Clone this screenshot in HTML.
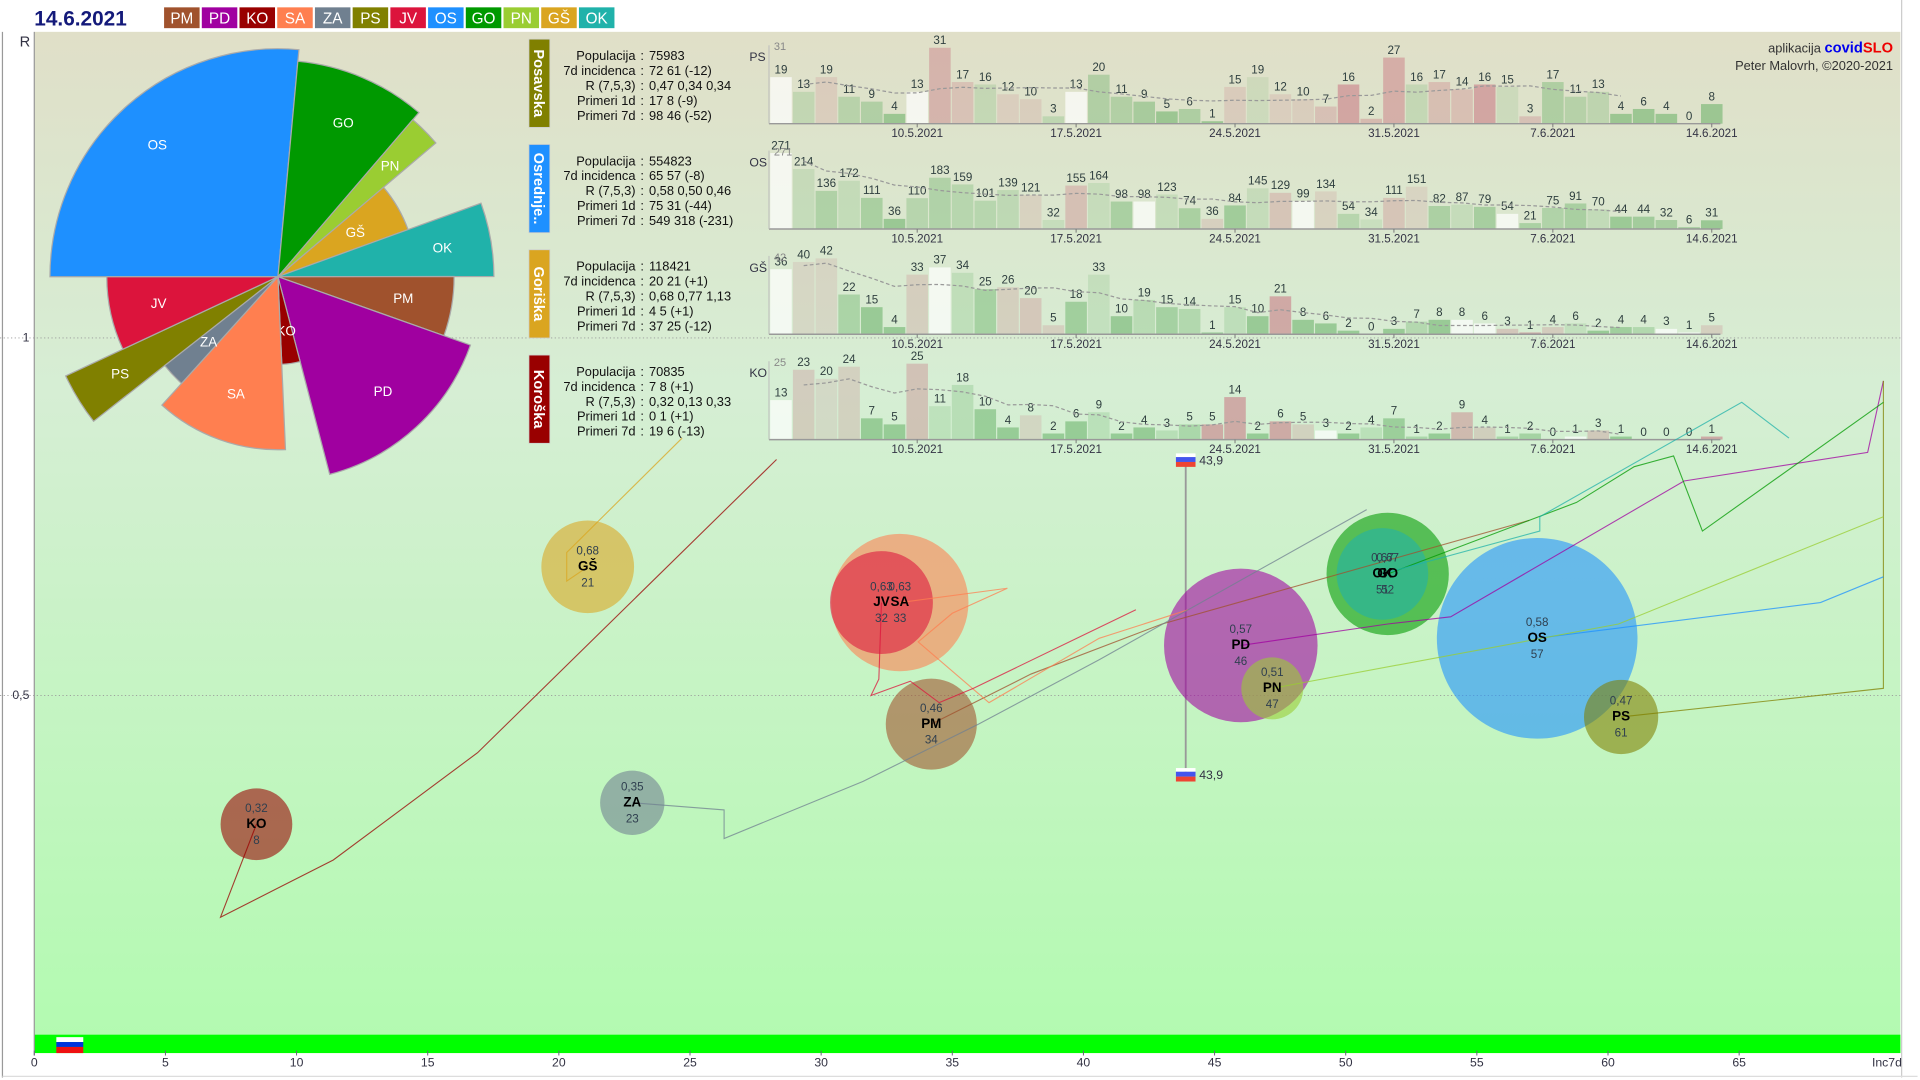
<!DOCTYPE html>
<html><head><meta charset="utf-8"><title>covidSLO 14.6.2021</title>
<style>
html,body{margin:0;padding:0;background:#fff;}
svg{display:block;font-family:"Liberation Sans","DejaVu Sans",sans-serif;}
</style></head>
<body>
<svg id="chart" width="1920" height="1080" viewBox="0 0 1568 882" preserveAspectRatio="none" xmlns="http://www.w3.org/2000/svg">
<defs>
<linearGradient id="bg" x1="0" y1="0" x2="0" y2="1">
<stop offset="0" stop-color="#e0dfc8"/>
<stop offset="0.35" stop-color="#d6eed4"/>
<stop offset="1" stop-color="#b2fbb0"/>
</linearGradient>
</defs>
<rect x="0" y="0" width="1568" height="882" fill="#fff"/>
<rect x="28" y="26" width="1524" height="834" fill="url(#bg)"/>
<line x1="1553" y1="0" x2="1553" y2="880" stroke="#ccc" stroke-width="1"/>
<line x1="2" y1="26" x2="2" y2="880" stroke="#999" stroke-width="1"/>
<line x1="2" y1="879" x2="1566" y2="879" stroke="#ddd" stroke-width="1"/>
<rect x="28" y="845" width="1524" height="15" fill="#00ff00"/>
<g>
<rect x="46" y="847" width="22" height="4" fill="#fff"/><rect x="46" y="851" width="22" height="4" fill="#0033dd"/><rect x="46" y="855" width="22" height="5" fill="#ee1111"/>
</g>
<g id="layer"></g>
</svg>
<script>
// ---- data ----
const regions = ['PM','PD','KO','SA','ZA','PS','JV','OS','GO','PN','GŠ','OK'];
const regionColors = ['#a0522d','#a000a0','#990000','#ff7f50','#708090','#808000','#dc143c','#1e90ff','#009900','#9acd32','#daa520','#20b2aa'];
const population = [114287,324875,70835,259726,57059,75983,145886,554823,206056,52881,118421,115613];
const incidence7d = [34.2,46.0,8.47,33.0,22.8,60.5,32.3,57.3,51.6,47.2,21.1,51.4];
const rValues = [0.46,0.57,0.32,0.63,0.35,0.47,0.63,0.58,0.67,0.51,0.68,0.67];
const pieOrder = ['OS','GO','PN','GŠ','OK','PM','PD','KO','SA','ZA','PS','JV'];
// trails: [incidence, R] history pairs, newest first
const trailPM = [[34.2,0.46],[38,0.53],[43,0.60],[57,0.745]];
const trailPD = [[46,0.57],[51.6,0.60],[54,0.61],[62.9,0.80],[69.9,0.84],[70.5,0.94]];
const trailKO = [[8.47,0.32],[7.1,0.19],[11.4,0.27],[16.9,0.42],[28.3,0.83]];
const trailSA = [[33.0,0.63],[37.1,0.65],[35.0,0.615],[33.7,0.575],[36.4,0.49],[40.6,0.58],[44,0.62]];
const trailZA = [[22.8,0.35],[26.3,0.34],[26.3,0.30],[31.6,0.38],[36.0,0.46],[40.6,0.55],[50.8,0.76]];
const trailPS = [[60.5,0.47],[70.5,0.51],[70.5,0.94]];
const trailJV = [[32.3,0.63],[32.2,0.523],[31.9,0.50],[33.4,0.52],[34.5,0.49],[35.8,0.51],[42,0.62]];
const trailOS = [[57.3,0.58],[68.1,0.63],[70.5,0.666]];
const trailGO = [[51.6,0.67],[58.8,0.77],[61,0.82],[62.5,0.835],[63.6,0.73],[70.5,0.91]];
const trailPN = [[47.2,0.51],[60.4,0.60],[70.5,0.75]];
const trailGS = [[21.1,0.68],[20.3,0.66],[20.3,0.70],[24.7,0.86]];
const trailOK = [[51.4,0.67],[57.4,0.73],[57.4,0.75],[65.1,0.91],[66.9,0.86]];
const sloIncidence = 43.9;
const sloRange = [0.39,0.83];
const xTicks = [0,5,10,15,20,25,30,35,40,45,50,55,60,65];
const yTicks = [1,0.5];
// bar panels
const barDates = ['10.5.2021','17.5.2021','24.5.2021','31.5.2021','7.6.2021','14.6.2021'];
const barDateIndex = [6,13,20,27,34,41];
const casesPS = [19,13,19,11,9,4,13,31,17,16,12,10,3,13,20,11,9,5,6,1,15,19,12,10,7,16,2,27,16,17,14,16,15,3,17,11,13,4,6,4,0,8];
const casesOS = [271,214,136,172,111,36,110,183,159,101,139,121,32,155,164,98,98,123,74,36,84,145,129,99,134,54,34,111,151,82,87,79,54,21,75,91,70,44,44,32,6,31];
const casesGS = [36,40,42,22,15,4,33,37,34,25,26,20,5,18,33,10,19,15,14,1,15,10,21,8,6,2,0,3,7,8,8,6,3,1,4,6,2,4,4,3,1,5];
const casesKO = [13,23,20,24,7,5,25,11,18,10,4,8,2,6,9,2,4,3,5,5,14,2,6,5,3,2,4,7,1,2,9,4,1,2,0,1,3,1,0,0,0,1];
const infoLabels = ['Populacija','7d incidenca','R (7,5,3)','Primeri 1d','Primeri 7d'];
const infoPS = ['75983','72 61 (-12)','0,47 0,34 0,34','17 8 (-9)','98 46 (-52)'];
const infoOS = ['554823','65 57 (-8)','0,58 0,50 0,46','75 31 (-44)','549 318 (-231)'];
const infoGS = ['118421','20 21 (+1)','0,68 0,77 1,13','4 5 (+1)','37 25 (-12)'];
const infoKO = ['70835','7 8 (+1)','0,32 0,13 0,33','0 1 (+1)','19 6 (-13)'];

// ---- helpers ----
const NS='http://www.w3.org/2000/svg';
const layer=document.getElementById('layer');
function mk(tag, attrs, parent){const e=document.createElementNS(NS,tag);for(const k in attrs)e.setAttribute(k,attrs[k]);(parent||layer).appendChild(e);return e;}
function txt(s, attrs, parent){const e=mk('text',attrs,parent);e.textContent=s;return e;}
const X0=28, XS=21.42, Y0=860, YS=584;
const xScale=v=>X0+v*XS;
const yScale=r=>Y0-r*YS;
const fmt=v=>v.toFixed(2).replace('.',',');
const colorOf=c=>regionColors[regions.indexOf(c)];

// ---- header ----
const dateEl=txt('14.6.2021',{x:28,y:21,'font-size':17,'font-weight':'bold',fill:'#141a7a'});


regions.forEach((c,i)=>{
  const g=mk('g',{});
  
  
  const x=134+i*30.8;
  mk('rect',{x:x,y:6,width:29,height:17,fill:regionColors[i]},g);
  txt(c,{x:x+14.5,y:19,'font-size':12.5,fill:'#fff','text-anchor':'middle'},g);
});
const app=mk('text',{x:1546,y:43,'font-size':10.5,'text-anchor':'end',fill:'#333'});


const t1=mk('tspan',{},app);t1.textContent='aplikacija ';
const t2=mk('tspan',{fill:'#0000ee','font-weight':'bold','font-size':12},app);t2.textContent='covid';
const t3=mk('tspan',{fill:'#ee0000','font-weight':'bold','font-size':12},app);t3.textContent='SLO';
const auth=txt('Peter Malovrh, ©2020-2021',{x:1546,y:57,'font-size':10.5,'text-anchor':'end',fill:'#333'});



// ---- axes ----
mk('line',{x1:28,y1:26,x2:28,y2:862,stroke:'#999','stroke-width':1});
const rl=txt('R',{x:16,y:38,'font-size':12,fill:'#334'});


yTicks.forEach(v=>{
  const y=yScale(v);
  const gl=mk('line',{x1:0,y1:y,x2:1552,y2:y,stroke:'#999','stroke-width':0.7,'stroke-dasharray':'1,2'});
  
  
  const t=txt(String(v).replace('.',','),{x:24,y:y+3,'font-size':10,'text-anchor':'end',fill:'#334'});
  
  
});
xTicks.forEach(v=>{
  const x=xScale(v);
  mk('line',{x1:x,y1:858,x2:x,y2:862,stroke:'#667','stroke-width':0.8});
  const t=txt(String(v),{x:x,y:871,'font-size':10,'text-anchor':'middle',fill:'#334'});
  
  
});
const xt=txt('Inc7d',{x:1541,y:871,'font-size':10,'text-anchor':'middle',fill:'#334'});



// ---- pie ----
const totalPop=population.reduce((a,b)=>a+b,0);
const PCX=227, PCY=226;
let ang=180;
pieOrder.forEach(c=>{
  const i=regions.indexOf(c);
  const span=360*population[i]/totalPop;
  const r=24.6*Math.sqrt(incidence7d[i]);
  const a0=ang*Math.PI/180, a1=(ang+span)*Math.PI/180;
  const p0=[PCX+r*Math.cos(a0),PCY+r*Math.sin(a0)], p1=[PCX+r*Math.cos(a1),PCY+r*Math.sin(a1)];
  const path=mk('path',{d:`M${PCX},${PCY} L${p0[0]},${p0[1]} A${r},${r} 0 ${span>180?1:0} 1 ${p1[0]},${p1[1]} Z`,fill:regionColors[i],stroke:'#aaa','stroke-width':1});
  
  
  const am=(ang+span/2)*Math.PI/180, lr=Math.max(r*0.62, r-40);
  const t=txt(c,{x:PCX+lr*Math.cos(am),y:PCY+lr*Math.sin(am)+4,'font-size':11,fill:'#fff','text-anchor':'middle'});
  
  
  ang+=span;
});

// ---- bar panels ----
const panels=[
 {code:'PS',name:'Posavska',data:casesPS,info:infoPS,top:32},
 {code:'OS',name:'Osrednje..',data:casesOS,info:infoOS,top:118},
 {code:'GŠ',name:'Goriška',data:casesGS,info:infoGS,top:204},
 {code:'KO',name:'Koroška',data:casesKO,info:infoKO,top:290}
];
const BX0=629, BSTEP=18.54, BW=17.6, BH=62;
panels.forEach(p=>{
  const g=mk('g',{});
  
  
  const col=colorOf(p.code);
  const box=mk('rect',{x:432,y:p.top,width:17,height:72,fill:col,stroke:'#ccc','stroke-width':0.6},g);
  
  
  const vt=txt(p.name,{x:0,y:0,'font-size':12,'font-weight':'bold',fill:'#fff','text-anchor':'middle',transform:`translate(436,${p.top+36}) rotate(90)`},g);
  infoLabels.forEach((l,k)=>{
    const y=p.top+17+k*12.2;
    txt(l,{x:519,y:y,'font-size':10.5,'text-anchor':'end',fill:'#111'},g);
    txt(':',{x:523,y:y,'font-size':10.5,fill:'#111'},g);
    txt(p.info[k],{x:530,y:y,'font-size':10.5,fill:'#111'},g);
  });
  const base=p.top+69;
  const mx=Math.max(...p.data);
  const hy=v=>base-v/mx*BH;
  // bars
  p.data.forEach((v,i)=>{
    const ref=i>=7?p.data[i-7]:p.data.slice(0,i+1).reduce((a,b)=>a+b,0)/(i+1);
    let t=Math.log2((v+1)/(ref+1));t=Math.max(-1,Math.min(1,t));
    const fill=t>0.05?`rgba(200,110,125,${0.12+0.4*t})`:(t<-0.05?`rgba(90,170,90,${0.1+0.4*(-t)})`:'rgba(255,255,255,0.7)');
    const x=BX0+i*BSTEP;
    const b=mk('rect',{x:x,y:hy(v),width:BW,height:base-hy(v),fill:fill},g);
    
    
    txt(String(v),{x:x+BW/2,y:hy(v)-3,'font-size':9.5,'text-anchor':'middle',fill:'#2f3f3f'},g);
  });
  // moving average
  const pts=p.data.map((v,i)=>{const s=p.data.slice(Math.max(0,i-6),i+1);const a=s.reduce((x,y)=>x+y,0)/s.length;return [BX0+i*BSTEP+BW/2,hy(a)];}).slice(1,38);
  mk('polyline',{points:pts.map(q=>q.join(',')).join(' '),fill:'none',stroke:'#999','stroke-width':1,'stroke-dasharray':'3,2'},g);
  // axes
  mk('line',{x1:628,y1:base,x2:1405,y2:base,stroke:'#999','stroke-width':1.2},g);
  mk('line',{x1:628,y1:base,x2:628,y2:base-BH-2,stroke:'#bbb','stroke-width':0.8},g);
  txt(String(mx),{x:632,y:base-BH+2,'font-size':9,fill:'#888'},g);
  txt(p.code,{x:612,y:base-51,'font-size':10,fill:'#334'},g);
  barDateIndex.forEach((di,k)=>{
    const x=BX0+di*BSTEP+BW/2;
    mk('line',{x1:x,y1:base,x2:x,y2:base+3,stroke:'#777','stroke-width':0.8},g);
    txt(barDates[k],{x:x,y:base+11,'font-size':9.5,'text-anchor':'middle',fill:'#334'},g);
  });
});

// ---- slovenia marker ----
const sx=xScale(sloIncidence);
const sl=mk('line',{x1:sx,y1:yScale(sloRange[1]),x2:sx,y2:yScale(sloRange[0]),stroke:'#999','stroke-width':1.5});


[sloRange[1],sloRange[0]].forEach(r=>{
  const y=yScale(r);
  const g=mk('g',{});
  
  
  mk('rect',{x:sx-8,y:y-5,width:16,height:3,fill:'#fff'},g);
  mk('rect',{x:sx-8,y:y-2,width:16,height:4,fill:'#4455ee'},g);
  mk('rect',{x:sx-8,y:y+2,width:16,height:4,fill:'#ee4433'},g);
  txt(String(sloIncidence).replace('.',','),{x:sx+11,y:y+4,'font-size':10,fill:'#334'},g);
});

// ---- bubbles ----
const order=regions.map((c,i)=>i).sort((a,b)=>population[b]-population[a]);
order.forEach(i=>{
  const cx=xScale(incidence7d[i]), cy=yScale(rValues[i]), r=0.11*Math.sqrt(population[i]);
  const c=mk('circle',{cx:cx,cy:cy,r:r,fill:regionColors[i],'fill-opacity':0.58});
  
  
});
const trails={PM:trailPM,PD:trailPD,KO:trailKO,SA:trailSA,ZA:trailZA,PS:trailPS,JV:trailJV,OS:trailOS,GO:trailGO,PN:trailPN,'GŠ':trailGS,OK:trailOK};
Object.keys(trails).forEach(c=>{
  const pl=mk('polyline',{points:trails[c].map(q=>xScale(q[0])+','+yScale(q[1])).join(' '),fill:'none',stroke:colorOf(c),'stroke-width':0.9,'stroke-opacity':0.75});
  
  
});
order.forEach(i=>{
  const cx=xScale(incidence7d[i]), cy=yScale(rValues[i]);
  const g=mk('g',{});
  
  
  txt(fmt(rValues[i]),{x:cx,y:cy-10,'font-size':9.5,'text-anchor':'middle',fill:'#2f3f4f'},g);
  txt(regions[i],{x:cx,y:cy+3,'font-size':11,'font-weight':'bold','text-anchor':'middle',fill:'#000'},g);
  txt(String(Math.round(incidence7d[i])),{x:cx,y:cy+16,'font-size':9.5,'text-anchor':'middle',fill:'#2f3f4f'},g);
});
</script>
</body></html>
